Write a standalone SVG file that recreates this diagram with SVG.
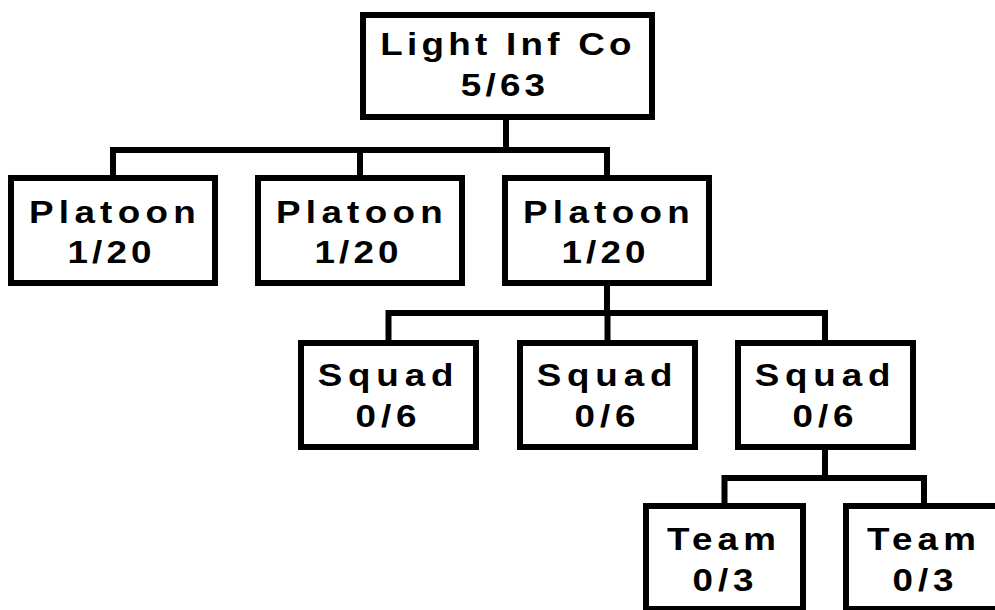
<svg xmlns="http://www.w3.org/2000/svg" width="995" height="610" viewBox="0 0 995 610">
<style>
.box{fill:#fff;stroke:#000;stroke-width:6}
.conn{fill:none;stroke:#000;stroke-width:6;stroke-linejoin:miter;stroke-linecap:butt}
text{font-family:"Liberation Sans",Arial,sans-serif;font-weight:bold;font-size:32px;text-anchor:middle;fill:#000}
.co{letter-spacing:3.7px}
.pl{letter-spacing:4.6px}
.pn{letter-spacing:3.6px}
.sq{letter-spacing:5.1px}
.sn{letter-spacing:4.3px}
.tm{letter-spacing:4.5px}
</style>
<rect width="995" height="610" fill="#fff"/>
<g id="connectors">
<path class="conn" d="M506,120 V150"/>
<path class="conn" d="M113,175 V150 H607 V175"/>
<path class="conn" d="M360,150 V175"/>
<path class="conn" d="M607,286 V313"/>
<path class="conn" d="M388.5,340 V313 H825 V340"/>
<path class="conn" d="M607.5,313 V340"/>
<path class="conn" d="M825,450 V478"/>
<path class="conn" d="M724.5,503 V478 H924 V503"/>
</g>
<g id="company">
<rect class="box" x="363" y="15" width="289" height="102"/>
<text class="co" transform="translate(508,55) scale(1.15,1)">Light Inf Co</text>
<text class="co" transform="translate(505,96) scale(1.15,1)">5/63</text>
</g>
<g id="platoon1">
<rect class="box" x="11" y="178" width="204" height="105"/>
<text class="pl" transform="translate(115,223) scale(1.15,1)">Platoon</text>
<text class="pn" transform="translate(111.5,263) scale(1.15,1)">1/20</text>
</g>
<g id="platoon2">
<rect class="box" x="258" y="178" width="204" height="105"/>
<text class="pl" transform="translate(362,223) scale(1.15,1)">Platoon</text>
<text class="pn" transform="translate(358.5,263) scale(1.15,1)">1/20</text>
</g>
<g id="platoon3">
<rect class="box" x="505" y="178" width="204" height="105"/>
<text class="pl" transform="translate(609,223) scale(1.15,1)">Platoon</text>
<text class="pn" transform="translate(605.5,263) scale(1.15,1)">1/20</text>
</g>
<g id="squad1">
<rect class="box" x="301" y="343" width="175" height="104"/>
<text class="sq" transform="translate(388.5,386) scale(1.15,1)">Squad</text>
<text class="sn" transform="translate(388.5,427) scale(1.15,1)">0/6</text>
</g>
<g id="squad2">
<rect class="box" x="520" y="343" width="175" height="104"/>
<text class="sq" transform="translate(607.5,386) scale(1.15,1)">Squad</text>
<text class="sn" transform="translate(607.5,427) scale(1.15,1)">0/6</text>
</g>
<g id="squad3">
<rect class="box" x="738" y="343" width="175" height="104"/>
<text class="sq" transform="translate(825.5,386) scale(1.15,1)">Squad</text>
<text class="sn" transform="translate(825.5,427) scale(1.15,1)">0/6</text>
</g>
<g id="team1">
<rect class="box" x="646" y="506" width="157" height="103"/>
<text class="tm" transform="translate(724,550) scale(1.15,1)">Team</text>
<text class="sn" transform="translate(725.5,591) scale(1.15,1)">0/3</text>
</g>
<g id="team2">
<rect class="box" x="846" y="506" width="157" height="103"/>
<text class="tm" transform="translate(924,550) scale(1.15,1)">Team</text>
<text class="sn" transform="translate(925.5,591) scale(1.15,1)">0/3</text>
</g>
</svg>
